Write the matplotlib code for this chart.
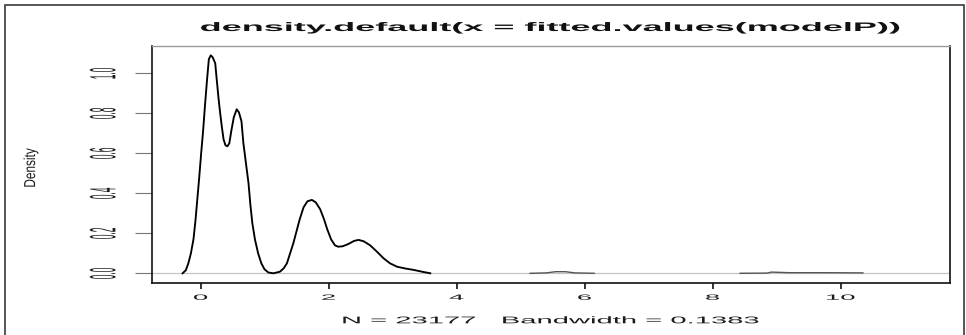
import matplotlib
matplotlib.use("Agg")
import matplotlib.pyplot as plt
from matplotlib.patches import Rectangle
from matplotlib.patheffects import AbstractPathEffect
from matplotlib.transforms import Affine2D

# Kernel density estimate of the fitted values
density_x = [-0.28, -0.23, -0.19, -0.15, -0.11, -0.08, -0.05, -0.02, 0.01, 0.04,
             0.07, 0.10, 0.13, 0.16, 0.19, 0.23, 0.25, 0.28, 0.30, 0.33,
             0.36, 0.39, 0.42, 0.45, 0.48, 0.52, 0.565, 0.60, 0.64, 0.67,
             0.71, 0.75, 0.78, 0.81, 0.85, 0.90, 0.95, 1.00, 1.06, 1.14,
             1.24, 1.30, 1.35, 1.40, 1.45, 1.50, 1.55, 1.61, 1.67, 1.74,
             1.80, 1.87, 1.93, 1.98, 2.04, 2.10, 2.15, 2.22, 2.30, 2.40,
             2.47, 2.55, 2.65, 2.75, 2.86, 2.96, 3.07, 3.20, 3.33, 3.46,
             3.59]
density_y = [0.000, 0.015, 0.050, 0.100, 0.170, 0.260, 0.370, 0.480, 0.600, 0.710,
             0.840, 0.960, 1.070, 1.090, 1.080, 1.050, 0.980, 0.880, 0.820, 0.740,
             0.670, 0.640, 0.635, 0.650, 0.710, 0.780, 0.820, 0.805, 0.760, 0.650,
             0.550, 0.450, 0.340, 0.250, 0.170, 0.100, 0.050, 0.020, 0.004, 0.000,
             0.008, 0.025, 0.050, 0.100, 0.150, 0.210, 0.270, 0.330, 0.360, 0.367,
             0.355, 0.320, 0.270, 0.220, 0.170, 0.140, 0.133, 0.135, 0.145, 0.162,
             0.167, 0.160, 0.140, 0.110, 0.075, 0.050, 0.033, 0.024, 0.017, 0.008,
             0.000]

# Small outlying clusters of fitted values
bump1_x = [5.15, 5.40, 5.55, 5.70, 5.85, 6.15]
bump1_y = [0.000, 0.002, 0.008, 0.008, 0.002, 0.000]
bump2_x = [8.43, 8.85, 8.92, 9.20, 9.80, 10.35]
bump2_y = [0.000, 0.001, 0.006, 0.003, 0.003, 0.002]

x_ticks = [0, 2, 4, 6, 8, 10]
x_tick_labels = ["0", "2", "4", "6", "8", "10"]
y_ticks = [0.0, 0.2, 0.4, 0.6, 0.8, 1.0]
y_tick_labels = ["0.0", "0.2", "0.4", "0.6", "0.8", "1.0"]

title_text = "density.default(x = fitted.values(modelP))"
n_obs = 23177
bandwidth = 0.1383
xlabel_text = f"N = {n_obs}   Bandwidth = {bandwidth}"
ylabel_text = "Density"


class HStretch(AbstractPathEffect):
    """Widen glyphs horizontally about the centre of their ink."""

    def __init__(self, factor=None, width=None):
        super().__init__()
        self.factor = factor
        self.width = width

    def draw_path(self, renderer, gc, tpath, affine, rgbFace=None):
        ext = tpath.get_extents(affine)
        if self.width is not None:
            sx = self.width / max(ext.width, 1e-9)
        else:
            sx = self.factor
        cx = 0.5 * (ext.x0 + ext.x1)
        widened = affine + Affine2D().translate(-cx, 0).scale(sx, 1).translate(cx, 0)
        renderer.draw_path(gc, tpath, widened, rgbFace)


plt.rcParams["font.family"] = ["Liberation Sans", "DejaVu Sans"]

W, H = 966, 335
fig = plt.figure(figsize=(W / 100, H / 100), dpi=100)
fig.patch.set_facecolor("white")

# outer device frame
fig.add_artist(Rectangle((4.5 / W, -0.05), (964 - 4.5) / W, 1.05 - 4.5 / H,
                         transform=fig.transFigure, fill=False,
                         edgecolor="#3a3a3a", linewidth=1.2))

ax_l, ax_r, ax_t, ax_b = 152, 950, 46, 283
ax = fig.add_axes([ax_l / W, 1 - ax_b / H, (ax_r - ax_l) / W, (ax_b - ax_t) / H])

ax.axhline(0, color="#c4c4c4", linewidth=0.9, zorder=1)
ax.plot(density_x, density_y, color="black", linewidth=1.35, zorder=2)
ax.plot(bump1_x, bump1_y, color="#555555", linewidth=1.0, zorder=2)
ax.plot(bump2_x, bump2_y, color="#555555", linewidth=1.0, zorder=2)

ax.set_xlim(-0.758, 11.71)
ax.set_ylim(-0.0485, 1.1365)

for side in ["left", "bottom", "right"]:
    ax.spines[side].set_color("#111111")
    ax.spines[side].set_linewidth(1.2)
ax.spines["top"].set_color("#9a9a9a")
ax.spines["top"].set_linewidth(1.0)

ax.set_xticks(x_ticks, x_tick_labels)
ax.set_yticks(y_ticks, y_tick_labels)
ax.tick_params(axis="x", direction="out", length=4, width=1.2, color="#111111",
               pad=4.5, labelsize=5.5, labelcolor="#1a1a1a")
ax.tick_params(axis="y", direction="out", length=12.5, width=0.8, color="#777777",
               pad=22, labelsize=6, labelcolor="#1a1a1a")

for lbl in ax.get_xticklabels():
    lbl.set_path_effects([HStretch(factor=3.6)])
for lbl in ax.get_yticklabels():
    lbl.set_rotation(90)
    lbl.set_verticalalignment("center")
    lbl.set_horizontalalignment("center")
    lbl.set_path_effects([HStretch(factor=4.4)])

fig.text(551 / W, 1 - 31 / H, title_text, ha="center", va="baseline",
         fontsize=8.9, fontweight="bold", color="#111111",
         path_effects=[HStretch(width=698)])
fig.text(550.5 / W, 1 - 323.3 / H, xlabel_text, ha="center", va="baseline",
         fontsize=7, color="#1a1a1a", path_effects=[HStretch(width=415)])
fig.text(31 / W, 1 - 168 / H, ylabel_text, ha="center", va="center",
         rotation=90, fontsize=8.5, color="#1a1a1a",
         path_effects=[HStretch(factor=1.35)])

fig.savefig("out.png", dpi=100, facecolor="white")
